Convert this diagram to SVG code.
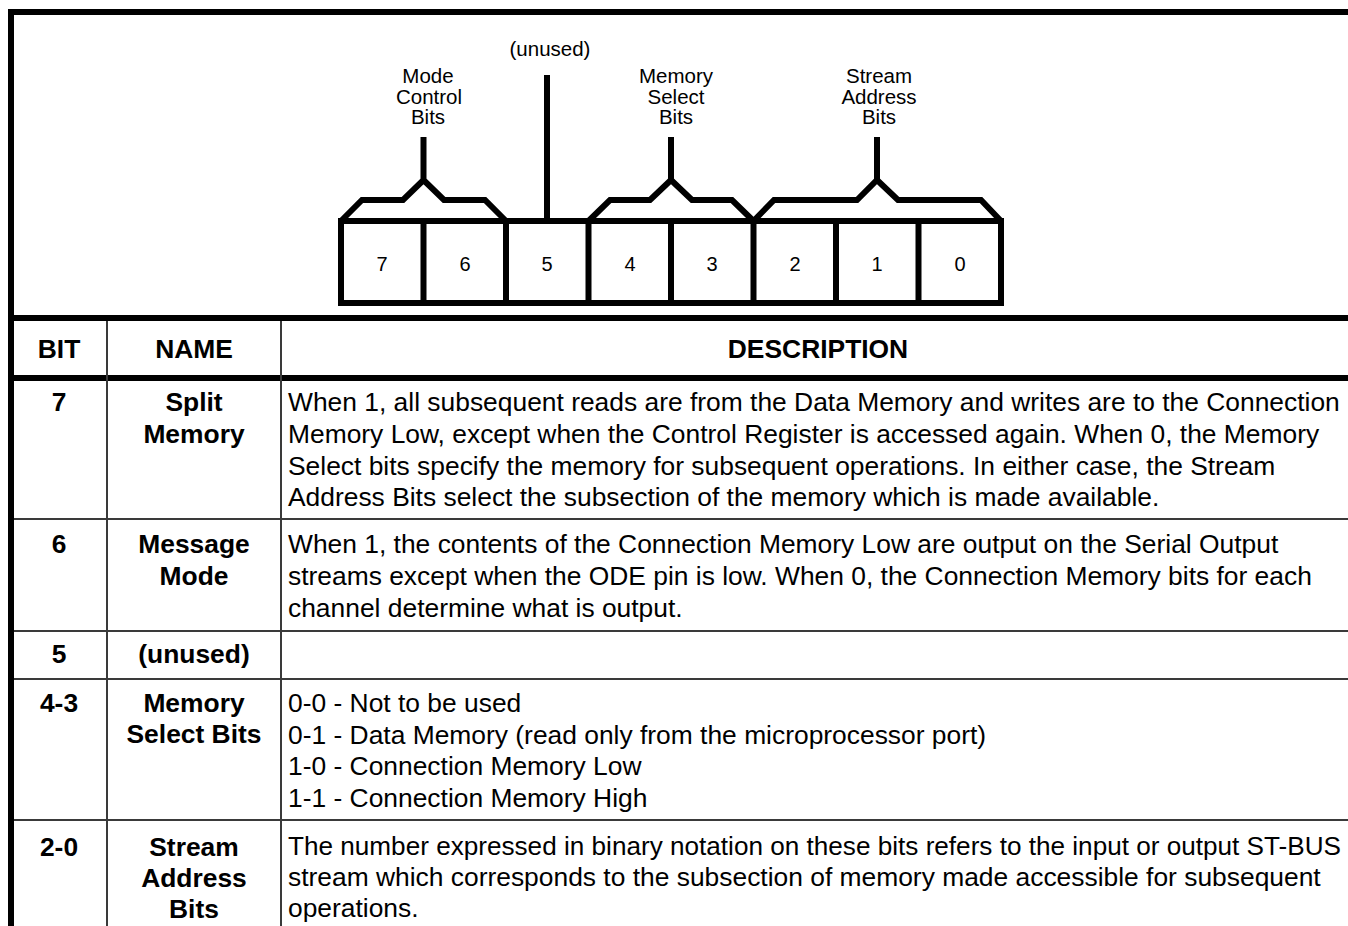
<svg xmlns="http://www.w3.org/2000/svg" width="1348" height="926" viewBox="0 0 1348 926">
<style>
.thick{stroke:#000;stroke-width:6;fill:none;stroke-linejoin:miter;stroke-linecap:butt}
.thin{stroke:#3a3a3a;stroke-width:2;fill:none}
.lbl{font-family:"Liberation Sans",Arial,sans-serif;font-size:20.5px;fill:#000;text-anchor:middle}
.num{font-family:"Liberation Sans",Arial,sans-serif;font-size:20px;fill:#000;text-anchor:middle}
.hd{font-family:"Liberation Sans",Arial,sans-serif;font-size:26.4px;font-weight:bold;fill:#000;text-anchor:middle}
.tx{font-family:"Liberation Sans",Arial,sans-serif;font-size:26.4px;fill:#000}
</style>
<rect x="0" y="0" width="1348" height="926" fill="#fff"/>
<g id="frame">
<path class="thick" d="M11,926 V12 H1348"/>
<path class="thick" d="M8,318 H1348"/>
<path class="thick" d="M8,378 H1348"/>
</g>
<g id="register">
<rect class="thick" x="341" y="221" width="660" height="82"/>
<path class="thick" d="M423.5,221 V303 M506,221 V303 M588.5,221 V303 M671,221 V303 M753.5,221 V303 M836,221 V303 M918.5,221 V303"/>
<text class="num" x="382" y="271">7</text>
<text class="num" x="465" y="271">6</text>
<text class="num" x="547" y="271">5</text>
<text class="num" x="630" y="271">4</text>
<text class="num" x="712" y="271">3</text>
<text class="num" x="795" y="271">2</text>
<text class="num" x="877" y="271">1</text>
<text class="num" x="960" y="271">0</text>
</g>
<g id="connectors">
<path class="thick" d="M341,221 L362,200 H403 L423.5,180 L444,200 H485 L506,221 M423.5,180 V137"/>
<path class="thick" d="M547,221 V75"/>
<path class="thick" d="M588.5,221 L610,200 H650 L671,180 L692,200 H732 L753.5,221 M671,180 V137"/>
<path class="thick" d="M753.5,221 L774,200 H857 L877,180 L898,200 H981 L1001,221 M877,180 V137"/>
</g>
<g id="label-mode">
<text class="lbl" x="428" y="83">Mode</text>
<text class="lbl" x="429" y="103.5">Control</text>
<text class="lbl" x="428" y="124">Bits</text>
</g>
<g id="label-unused">
<text class="lbl" x="550" y="56">(unused)</text>
</g>
<g id="label-memory">
<text class="lbl" x="676" y="83">Memory</text>
<text class="lbl" x="676" y="103.5">Select</text>
<text class="lbl" x="676" y="124">Bits</text>
</g>
<g id="label-stream">
<text class="lbl" x="879" y="83">Stream</text>
<text class="lbl" x="879" y="103.5">Address</text>
<text class="lbl" x="879" y="124">Bits</text>
</g>
<g id="table-lines">
<path class="thin" d="M107,321 V926 M281,321 V926"/>
<path class="thin" d="M14,519 H1348 M14,631 H1348 M14,679 H1348 M14,820 H1348"/>
</g>
<g id="header">
<text class="hd" x="59" y="358">BIT</text>
<text class="hd" x="194" y="358">NAME</text>
<text class="hd" x="818" y="358">DESCRIPTION</text>
</g>
<g id="row-7">
<text class="hd" x="59" y="411">7</text>
<text class="hd" x="194" y="411">Split</text>
<text class="hd" x="194" y="443">Memory</text>
<text class="tx" x="288" y="411">When 1, all subsequent reads are from the Data Memory and writes are to the Connection</text>
<text class="tx" x="288" y="443">Memory Low, except when the Control Register is accessed again. When 0, the Memory</text>
<text class="tx" x="288" y="474.5">Select bits specify the memory for subsequent operations. In either case, the Stream</text>
<text class="tx" x="288" y="506">Address Bits select the subsection of the memory which is made available.</text>
</g>
<g id="row-6">
<text class="hd" x="59" y="553">6</text>
<text class="hd" x="194" y="553">Message</text>
<text class="hd" x="194" y="585">Mode</text>
<text class="tx" x="288" y="553">When 1, the contents of the Connection Memory Low are output on the Serial Output</text>
<text class="tx" x="288" y="585">streams except when the ODE pin is low. When 0, the Connection Memory bits for each</text>
<text class="tx" x="288" y="616.5">channel determine what is output.</text>
</g>
<g id="row-5">
<text class="hd" x="59" y="663">5</text>
<text class="hd" x="194" y="663">(unused)</text>
</g>
<g id="row-4-3">
<text class="hd" x="59" y="712">4-3</text>
<text class="hd" x="194" y="712">Memory</text>
<text class="hd" x="194" y="743">Select Bits</text>
<text class="tx" x="288" y="712">0-0 - Not to be used</text>
<text class="tx" x="288" y="743.5">0-1 - Data Memory (read only from the microprocessor port)</text>
<text class="tx" x="288" y="775">1-0 - Connection Memory Low</text>
<text class="tx" x="288" y="806.5">1-1 - Connection Memory High</text>
</g>
<g id="row-2-0">
<text class="hd" x="59" y="856">2-0</text>
<text class="hd" x="194" y="856">Stream</text>
<text class="hd" x="194" y="887">Address</text>
<text class="hd" x="194" y="918">Bits</text>
<text class="tx" x="288" y="855" style="font-size:25.8px" textLength="1053" lengthAdjust="spacingAndGlyphs">The number expressed in binary notation on these bits refers to the input or output ST-BUS</text>
<text class="tx" x="288" y="886">stream which corresponds to the subsection of memory made accessible for subsequent</text>
<text class="tx" x="288" y="917">operations.</text>
</g>
</svg>
